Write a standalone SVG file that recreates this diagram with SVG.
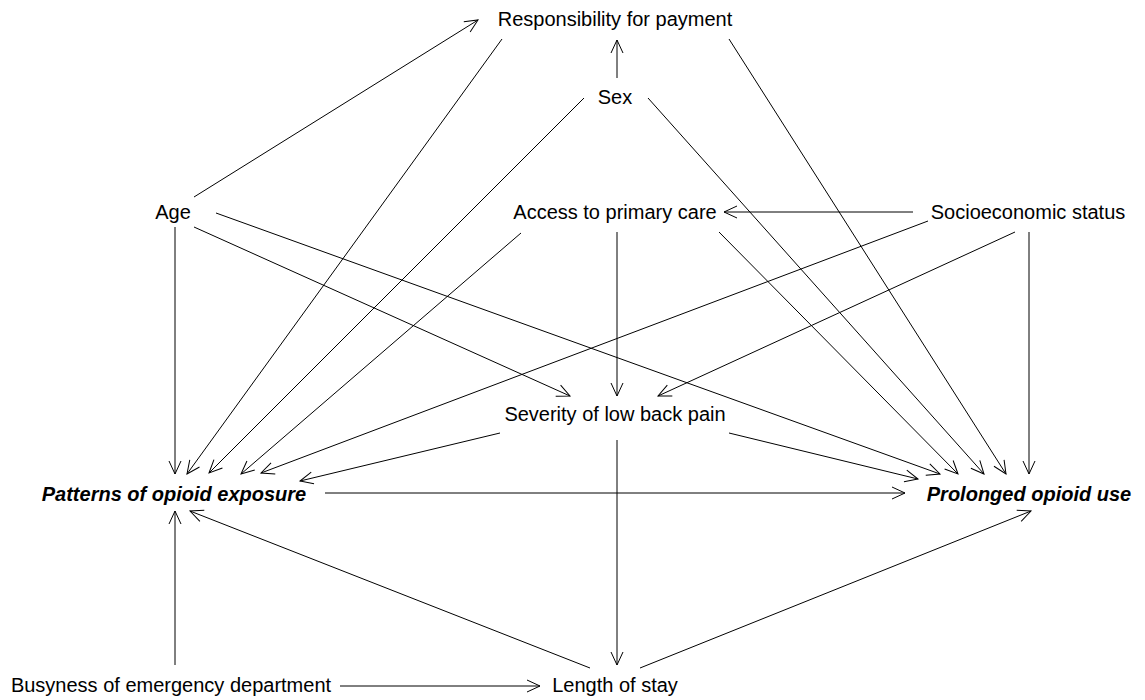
<svg xmlns="http://www.w3.org/2000/svg" width="1145" height="700" viewBox="0 0 1145 700">
<style>
text{font-family:"Liberation Sans",Arial,Helvetica,sans-serif;font-size:20px;fill:#000;text-anchor:middle}
.out{font-weight:bold;font-style:italic}
.e line{stroke:#000;stroke-width:1;fill:none;marker-end:url(#ah)}
</style>
<defs>
<marker id="ah" markerUnits="userSpaceOnUse" markerWidth="30" markerHeight="30" refX="0" refY="0" viewBox="-15 -15 30 30" orient="auto" overflow="visible">
<path d="M-13,-6 L0,0 L-13,6" fill="none" stroke="#000" stroke-width="1"/>
</marker>
</defs>
<rect width="1145" height="700" fill="#fff"/>
<g class="e" id="edges">
<line x1="194" y1="197" x2="478" y2="20"/>
<line x1="502" y1="39" x2="187" y2="474"/>
<line x1="729" y1="39" x2="1006" y2="474"/>
<line x1="617" y1="78" x2="617" y2="40"/>
<line x1="584" y1="98" x2="209" y2="473"/>
<line x1="648" y1="98" x2="984" y2="474"/>
<line x1="175" y1="227" x2="175" y2="474"/>
<line x1="194" y1="227" x2="570" y2="396"/>
<line x1="216" y1="213" x2="940" y2="474"/>
<line x1="521" y1="233" x2="241" y2="474"/>
<line x1="617" y1="232" x2="617" y2="396"/>
<line x1="719" y1="232" x2="958" y2="474"/>
<line x1="913" y1="212" x2="724" y2="212"/>
<line x1="928" y1="221" x2="261" y2="473"/>
<line x1="1015" y1="232" x2="658" y2="396"/>
<line x1="1029" y1="232" x2="1029" y2="474"/>
<line x1="500" y1="433" x2="300" y2="481"/>
<line x1="729" y1="433" x2="918" y2="479"/>
<line x1="617" y1="440" x2="617" y2="665"/>
<line x1="325" y1="493" x2="905" y2="493"/>
<line x1="590" y1="668" x2="190" y2="511"/>
<line x1="640" y1="668" x2="1031" y2="511"/>
<line x1="175" y1="665" x2="175" y2="511"/>
<line x1="340" y1="686" x2="540" y2="686"/>
</g>
<g id="resp"><text x="615" y="26">Responsibility for payment</text></g>
<g id="sex"><text x="615" y="104">Sex</text></g>
<g id="age"><text x="173" y="219">Age</text></g>
<g id="access"><text x="615" y="219">Access to primary care</text></g>
<g id="ses"><text x="1028" y="219">Socioeconomic status</text></g>
<g id="severity"><text x="615" y="421">Severity of low back pain</text></g>
<g id="patterns"><text class="out" x="174" y="501">Patterns of opioid exposure</text></g>
<g id="prolonged"><text class="out" x="1029" y="501">Prolonged opioid use</text></g>
<g id="busyness"><text x="171" y="692">Busyness of emergency department</text></g>
<g id="los"><text x="615" y="692">Length of stay</text></g>
</svg>
